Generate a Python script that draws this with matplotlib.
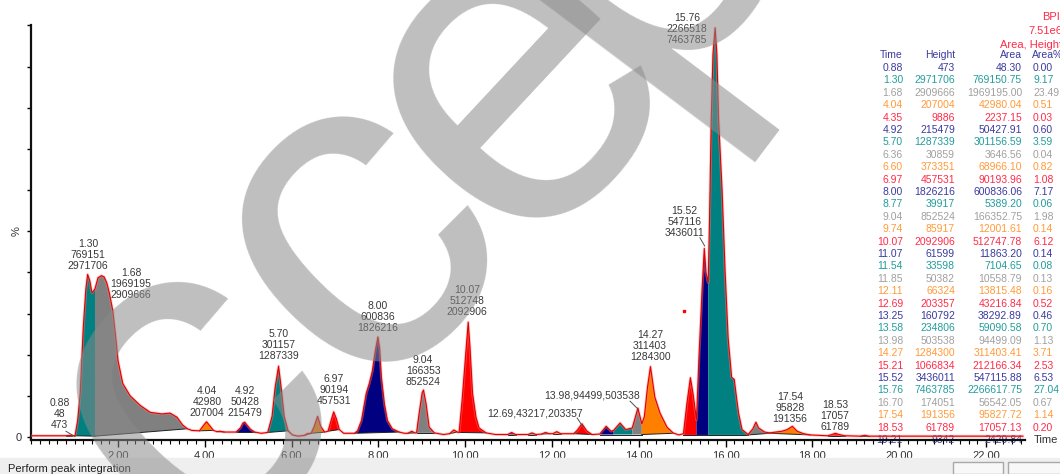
import numpy as np
import matplotlib
matplotlib.use('Agg')
import matplotlib.pyplot as plt
from matplotlib.patches import Rectangle

plt.rcParams['font.family'] = ['Liberation Sans', 'DejaVu Sans']

W, H = 1060, 474

# BPI trace (time in min, intensity in %)
trace_time = [0.00, 0.60, 0.80, 0.88, 0.95, 1.01,
              1.07, 1.13, 1.20, 1.26, 1.30, 1.35, 1.40, 1.47, 1.54, 1.62, 1.68, 1.74, 1.80,
              1.88, 1.95, 2.00, 2.11, 2.28, 2.51, 2.74, 3.01, 3.20, 3.36, 3.49, 3.60, 3.70, 3.88,
              3.97, 4.04, 4.11, 4.20, 4.28, 4.35, 4.45, 4.72, 4.82, 4.88, 4.92, 4.98, 5.05, 5.15,
              5.30, 5.45, 5.55, 5.62, 5.70, 5.76, 5.83, 5.92, 6.02, 6.15, 6.30, 6.36, 6.45, 6.52,
              6.60, 6.67, 6.76, 6.84, 6.91, 6.97, 7.03, 7.10, 7.20, 7.45,
              7.52, 7.61, 7.72, 7.79, 7.86, 7.93, 7.99, 8.03, 8.07, 8.14, 8.21, 8.32, 8.48, 8.60,
              8.68, 8.77, 8.84, 8.88, 8.94, 9.01, 9.04, 9.10, 9.17, 9.29, 9.50, 9.64, 9.74, 9.82,
              9.86, 9.93, 10.00, 10.07, 10.11, 10.17, 10.25, 10.32, 10.48, 10.70, 10.98, 11.07,
              11.16, 11.45, 11.54, 11.63, 11.76, 11.85, 11.94, 12.02, 12.11, 12.20, 12.50, 12.58,
              12.69, 12.80, 12.92, 13.10, 13.25, 13.36, 13.42, 13.57, 13.70, 13.85, 13.98, 14.07,
              14.13, 14.20, 14.27, 14.37, 14.49, 14.65, 14.79, 14.92, 15.03, 15.11, 15.19, 15.25,
              15.33, 15.39, 15.46, 15.51, 15.55, 15.60, 15.63, 15.67, 15.71, 15.76, 15.80, 15.84,
              15.92, 15.99, 16.06, 16.14, 16.20, 16.24, 16.30, 16.38, 16.52, 16.63, 16.70, 16.76,
              16.90, 17.02, 17.30, 17.42, 17.54, 17.65, 17.80, 17.95, 18.35, 18.45, 18.53, 18.62,
              18.75, 19.10, 19.21, 19.30, 20.00, 22.85]
trace_pct = [0.3, 0.3, 0.3, 0.4, 0.3, 0.3,
             4.0, 10.6, 26.6, 36.0, 39.5, 38.0, 35.0, 36.0, 38.7, 39.2, 38.9, 37.5, 35.0,
             30.7, 24.0, 18.6, 13.0, 10.0, 7.7, 6.0, 5.6, 5.8, 4.8, 2.9, 2.0, 1.6, 1.5,
             2.8, 3.7, 2.8, 1.6, 1.3, 1.4, 1.2, 1.2, 2.2, 3.4, 3.6, 2.8, 1.9, 1.2,
             0.9, 1.1, 5.0, 12.0, 17.2, 12.0, 5.0, 1.5, 0.5, 0.2, 0.4, 0.8, 0.9, 2.5,
             5.0, 2.6, 1.2, 1.4, 4.0, 6.1, 4.5, 1.8, 0.9, 0.9,
             1.5, 4.0, 10.6, 13.0, 16.0, 21.0, 24.3, 21.5, 14.5, 8.0, 4.0, 2.0, 1.2, 0.9,
             0.9, 1.4, 1.0, 1.0, 5.8, 10.8, 11.4, 8.0, 2.4, 1.0, 0.6, 0.8, 1.7, 1.2,
             1.1, 9.0, 18.6, 27.9, 22.0, 10.6, 4.8, 2.2, 1.0, 0.6, 0.6, 1.1,
             0.6, 0.6, 1.0, 0.6, 0.7, 1.1, 0.8, 0.8, 1.3, 0.8, 0.8, 1.6,
             3.2, 1.5, 0.6, 0.7, 2.6, 1.4, 1.6, 3.4, 1.8, 2.2, 7.0, 3.2,
             5.0, 12.0, 17.1, 9.7, 5.8, 2.4, 1.0, 0.5, 0.8, 8.2, 14.4, 10.6,
             4.2, 20.0, 36.0, 45.8, 40.0, 37.5, 52.5, 77.0, 93.0, 99.4, 93.0, 77.0,
             60.0, 40.0, 24.0, 14.5, 14.0, 10.6, 5.8, 1.8, 0.6, 2.0, 3.6, 2.2,
             1.2, 1.0, 1.4, 1.8, 2.6, 1.4, 0.8, 0.5, 0.3, 0.6, 0.9, 0.6,
             0.3, 0.2, 0.4, 0.2, 0.2, 0.2]

# peak table
peak_time = ["0.88", "1.30", "1.68", "4.04", "4.35", "4.92", "5.70", "6.36", "6.60", "6.97",
             "8.00", "8.77", "9.04", "9.74", "10.07", "11.07", "11.54", "11.85", "12.11", "12.69",
             "13.25", "13.58", "13.98", "14.27", "15.21", "15.52", "15.76", "16.70", "17.54", "18.53",
             "19.21"]
peak_height = [473, 2971706, 2909666, 207004, 9886, 215479, 1287339, 30859, 373351, 457531,
               1826216, 39917, 852524, 85917, 2092906, 61599, 33598, 50382, 66324, 203357,
               160792, 234806, 503538, 1284300, 1066834, 3436011, 7463785, 174051, 191356, 61789,
               9342]
peak_area = ["48.30", "769150.75", "1969195.00", "42980.04", "2237.15", "50427.91", "301156.59",
             "3646.56", "68966.10", "90193.96", "600836.06", "5389.20", "166352.75", "12001.61",
             "512747.78", "11863.20", "7104.65", "10558.79", "13815.48", "43216.84", "38292.89",
             "59090.58", "94499.09", "311403.41", "212166.34", "547115.88", "2266617.75",
             "56542.05", "95827.72", "17057.13", "2429.84"]
# last row's Area% sits under the "Time" axis label, so it is not shown
peak_area_pct = ["0.00", "9.17", "23.49", "0.51", "0.03", "0.60", "3.59", "0.04", "0.82", "1.08",
                 "7.17", "0.06", "1.98", "0.14", "6.12", "0.14", "0.08", "0.13", "0.16", "0.52",
                 "0.46", "0.70", "1.13", "3.71", "2.53", "6.53", "27.04", "0.67", "1.14", "0.20",
                 ""]

# integration limits and baselines of each peak (min, %)
fill_start = [0.80, 1.01, 1.47, 3.88, 4.28, 4.72, 5.45, 6.30, 6.45, 6.84, 7.45, 8.68, 8.88, 9.64,
              9.86, 10.98, 11.45, 11.76, 12.02, 12.50, 13.10, 13.42, 13.85, 14.07, 15.03, 15.33,
              15.60, 16.52, 17.02, 18.35, 19.10]
fill_end = [0.95, 1.47, 3.60, 4.20, 4.45, 5.15, 5.92, 6.45, 6.76, 7.10, 8.48, 8.84, 9.29, 9.82,
            10.48, 11.16, 11.63, 11.94, 12.20, 12.92, 13.42, 13.85, 14.07, 14.79, 15.33, 15.60,
            16.52, 17.02, 17.95, 18.75, 19.30]
base_start = [0.3, 0.3, 0.2, 1.5, 1.3, 1.2, 1.1, 0.4, 0.9, 1.4, 0.9, 0.9, 1.0, 0.8, 1.1, 0.6,
              0.6, 0.7, 0.8, 0.8, 0.6, 0.6, 0.6, 0.6, 0.5, 0.5, 0.5, 0.5, 0.9, 0.3, 0.2]
base_end = [0.3, 0.2, 2.0, 1.6, 1.2, 1.2, 1.5, 0.9, 1.2, 1.8, 1.2, 1.0, 1.0, 1.2, 1.0, 0.6,
            0.6, 0.8, 0.8, 0.6, 0.6, 0.6, 0.6, 0.9, 0.5, 0.5, 0.5, 0.9, 0.5, 0.3, 0.2]

# labels drawn on the chromatogram: text, x (min), y of middle line (%)
label_text = ["0.88\n48\n473", "1.30\n769151\n2971706", "1.68\n1969195\n2909666",
              "4.04\n42980\n207004", "4.92\n50428\n215479", "5.70\n301157\n1287339",
              "6.97\n90194\n457531", "8.00\n600836\n1826216", "9.04\n166353\n852524",
              "10.07\n512748\n2092906", "12.69,43217,203357", "13.98,94499,503538",
              "14.27\n311403\n1284300", "15.52\n547116\n3436011", "15.76\n2266518\n7463785",
              "17.54\n95828\n191356", "18.53\n17057\n61789"]
label_x = [0.66, 1.31, 2.30, 4.05, 4.93, 5.71, 6.98, 7.99, 9.03, 10.04, 11.61, 12.92, 14.26,
           15.06, 15.11, 17.48, 18.52]
label_y = [5.6, 44.2, 37.2, 8.5, 8.5, 22.4, 11.4, 29.2, 16.0, 33.1, 5.8, 10.2, 22.1, 52.3,
           99.2, 7.0, 5.1]

peak_colors = ['#000080', '#008080', '#808080', '#ff8000', '#ff0000']
table_colors = ['#3a3aa0', '#229c9c', '#a0a0a0', '#ff9a3a', '#ff2a48']


def fx(px):
    return px / W


def fy(py):
    return 1 - py / H


fig = plt.figure(figsize=(W / 100, H / 100), dpi=100)
ax = fig.add_axes([fx(31.2), fy(440), fx(1025) - fx(31.2), fy(25) - fy(440)])
ax.set_xlim(0, 22.9)
ax.set_ylim(-0.73, 100.1)

t = np.array(trace_time)
y = np.array(trace_pct)

# filled peak areas
for i in range(len(fill_start)):
    t0, t1 = fill_start[i], fill_end[i]
    m = (t >= t0 - 1e-9) & (t <= t1 + 1e-9)
    xs = np.r_[t[m], t1, t0]
    ys = np.r_[y[m], base_end[i], base_start[i]]
    ax.fill(xs, ys, color=peak_colors[i % 5], lw=0, zorder=3)
    ax.plot([t0, t1], [base_start[i], base_end[i]], color='#202020', lw=0.7, zorder=3.2)

ax.plot(t, y, color='#ff8080', lw=2.0, alpha=0.45, zorder=4)
ax.plot(t, y, color='#e00000', lw=0.8, zorder=4.1)
ax.plot([15.05], [30.6], 's', color='#ff0000', ms=2, zorder=4)

# peak labels
for txt, lx, ly in zip(label_text, label_x, label_y):
    ax.text(lx, ly, txt, ha='center', va='center', fontsize=7.5, color='#383838',
            linespacing=1.15, zorder=5)
for (xa, ya), (xb, yb) in [((0.80, 1.4), (1.01, 0.1)), ((12.58, 4.6), (12.72, 2.4)),
                           ((13.80, 8.7), (13.98, 6.8)), ((15.41, 48.4), (15.52, 46.4))]:
    ax.plot([xa, xb], [ya, yb], color='#505050', lw=0.7, zorder=5)

# axes styling
for s in ['top', 'right']:
    ax.spines[s].set_visible(False)
for s in ['left', 'bottom']:
    ax.spines[s].set_linewidth(1.6)
    ax.spines[s].set_color('#101010')
ax.spines['bottom'].set_zorder(4.5)
ax.set_xticks(np.arange(2, 23, 2))
ax.set_xticklabels(['%.2f' % v for v in np.arange(2, 23, 2)])
ax.set_xticks(np.arange(0, 22.9, 0.2), minor=True)
ax.tick_params(axis='x', which='major', length=5, width=1, pad=3, labelsize=8,
               labelcolor='#333333')
ax.tick_params(axis='x', which='minor', length=3, width=0.8)
ax.set_yticks(np.arange(0, 101, 10))
ylabels = [''] * 11
ylabels[0] = '0'
ylabels[5] = '%'
ax.set_yticklabels(ylabels)
ax.tick_params(axis='y', length=3, width=1, pad=4, labelsize=8, labelcolor='#333333')
ax.get_yticklabels()[5].set_rotation(90)
ax.get_yticklabels()[5].set_va('center')

# peak table on the right
tab_kw = dict(transform=fig.transFigure, fontsize=7.5, va='center', zorder=2)
for head, px, ha in [('Time', 903, 'right'), ('Height', 955, 'right'),
                     ('Area', 1022, 'right'), ('Area%', 1032, 'left')]:
    ax.text(fx(px), fy(55), head, color='#3a3aa0', ha=ha, **tab_kw)
for head, px, py in [('BPI', 1042, 17), ('7.51e6', 1028, 31), ('Area, Height', 1000, 45)]:
    ax.text(fx(px), fy(py), head, color='#ff2a48', fontsize=8, ha='left',
            va='center', transform=fig.transFigure, zorder=2)
for i in range(len(peak_time)):
    py = 68 + 12.4 * i
    c = table_colors[i % 5]
    ax.text(fx(903), fy(py), peak_time[i], color=c, ha='right', **tab_kw)
    ax.text(fx(955), fy(py), str(peak_height[i]), color=c, ha='right', **tab_kw)
    ax.text(fx(1022), fy(py), peak_area[i], color=c, ha='right', **tab_kw)
    ax.text(fx(1033), fy(py), peak_area_pct[i], color=c, ha='left', **tab_kw)

fig.text(fx(1034), fy(440), 'Time', fontsize=8, color='#333333', va='center')

# status bar at the bottom
fig.patches.append(Rectangle((0, 0), 1, fy(458), transform=fig.transFigure,
                             color='#efefef', zorder=0))
fig.text(fx(8), fy(469), 'Perform peak integration', fontsize=8, color='#202020', va='center')
for x0, x1 in [(953, 1003), (1008, 1062)]:
    fig.patches.append(Rectangle((fx(x0), 0), fx(x1) - fx(x0), fy(462), transform=fig.transFigure,
                                 facecolor='#f8f8f8', edgecolor='#a8a8a8', lw=1, zorder=1))

# watermark
wm = dict(fontsize=337, rotation_mode='anchor', ha='left', va='baseline',
          color='#8a8a8a', alpha=0.55, zorder=10)
fig.text(fx(-22), fy(799), 'Acc', rotation=45, **wm)
fig.text(fx(514), fy(258), 'e', rotation=47, **wm)
fig.text(fx(647), fy(105), 'pted', rotation=53, **wm)

fig.savefig('out.png', dpi=100)
